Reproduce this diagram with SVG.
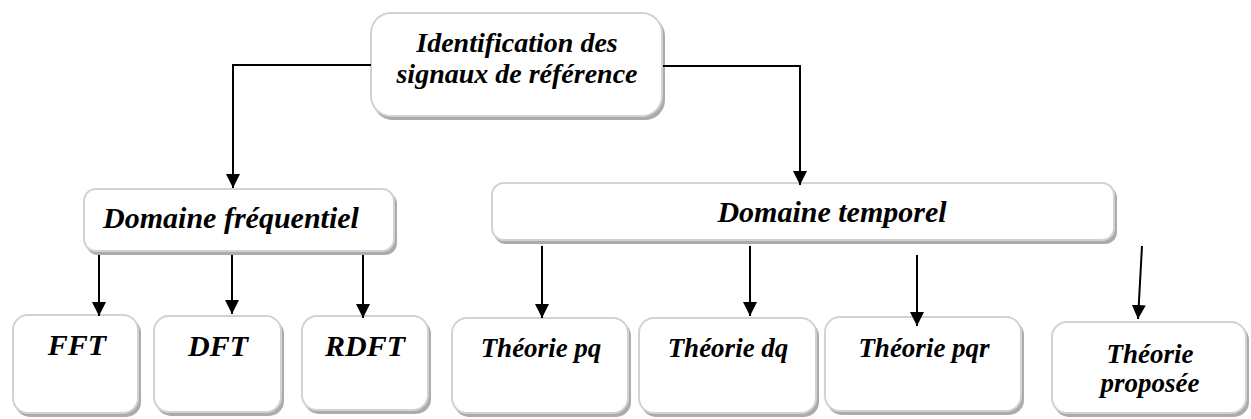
<svg xmlns="http://www.w3.org/2000/svg" width="1251" height="419" viewBox="0 0 1251 419">
  <style>
    .shadow { fill: #ababab; }
    .box { fill: #ffffff; stroke: #d2d2d2; stroke-width: 2; }
    .lbl { font-family: "Liberation Serif", serif; font-weight: bold; font-style: italic; fill: #000; text-anchor: middle; }
    .conn { fill: none; stroke: #000; stroke-width: 2; }
  </style>
  <defs>
    <marker id="arr" markerUnits="userSpaceOnUse" markerWidth="14" markerHeight="14" viewBox="0 0 14 14" refX="14" refY="7" orient="auto">
      <path d="M0,0 L14,7 L0,14 Z" fill="#000"/>
    </marker>
  </defs>
  <rect width="1251" height="419" fill="#ffffff"/>

  <g id="node-identification">
    <rect class="shadow" x="373" y="16" width="292" height="104" rx="20"/>
    <rect class="box" x="371" y="13" width="291" height="103" rx="20"/>
    <text class="lbl" x="517" y="52" font-size="28">Identification des</text>
    <text class="lbl" x="517" y="83" font-size="28">signaux de référence</text>
  </g>

  <g id="node-frequentiel">
    <rect class="shadow" x="86" y="192" width="311" height="63" rx="12"/>
    <rect class="box" x="84" y="189" width="310" height="62" rx="12"/>
    <text class="lbl" x="231" y="228" font-size="30">Domaine fréquentiel</text>
  </g>

  <g id="node-temporel">
    <rect class="shadow" x="494" y="186" width="623" height="58" rx="12"/>
    <rect class="box" x="492" y="183" width="622" height="57" rx="12"/>
    <text class="lbl" x="832" y="222" font-size="30">Domaine temporel</text>
  </g>

  <g id="node-fft">
    <rect class="shadow" x="15" y="318" width="126" height="99" rx="15"/>
    <rect class="box" x="13" y="315" width="125" height="98" rx="15"/>
    <text class="lbl" x="77" y="355" font-size="30">FFT</text>
  </g>

  <g id="node-dft">
    <rect class="shadow" x="156" y="319" width="128" height="97" rx="15"/>
    <rect class="box" x="154" y="316" width="127" height="96" rx="15"/>
    <text class="lbl" x="218" y="356" font-size="30">DFT</text>
  </g>

  <g id="node-rdft">
    <rect class="shadow" x="304" y="319" width="127" height="95" rx="15"/>
    <rect class="box" x="302" y="316" width="126" height="94" rx="15"/>
    <text class="lbl" x="365" y="356" font-size="30">RDFT</text>
  </g>

  <g id="node-pq">
    <rect class="shadow" x="454" y="321" width="177" height="96" rx="15"/>
    <rect class="box" x="452" y="318" width="176" height="95" rx="15"/>
    <text class="lbl" x="541" y="357" font-size="27">Théorie pq</text>
  </g>

  <g id="node-dq">
    <rect class="shadow" x="641" y="321" width="178" height="96" rx="15"/>
    <rect class="box" x="639" y="318" width="177" height="95" rx="15"/>
    <text class="lbl" x="728" y="357" font-size="27">Théorie dq</text>
  </g>

  <g id="node-pqr">
    <rect class="shadow" x="827" y="320" width="197" height="95" rx="15"/>
    <rect class="box" x="825" y="317" width="196" height="94" rx="15"/>
    <text class="lbl" x="924" y="357" font-size="27">Théorie pqr</text>
  </g>

  <g id="node-proposee">
    <rect class="shadow" x="1054" y="325" width="195" height="92" rx="15"/>
    <rect class="box" x="1052" y="322" width="194" height="91" rx="15"/>
    <text class="lbl" x="1150" y="363" font-size="27">Théorie</text>
    <text class="lbl" x="1150" y="392" font-size="27">proposée</text>
  </g>

  <g id="connectors">
    <polyline class="conn" points="371,65 233,65 233,188" marker-end="url(#arr)"/>
    <polyline class="conn" points="663,66 800,66 800,185" marker-end="url(#arr)"/>
    <line class="conn" x1="99" y1="255" x2="99" y2="316" marker-end="url(#arr)"/>
    <line class="conn" x1="232" y1="255" x2="232" y2="314" marker-end="url(#arr)"/>
    <line class="conn" x1="363" y1="255" x2="363" y2="318" marker-end="url(#arr)"/>
    <line class="conn" x1="542" y1="246" x2="542" y2="318" marker-end="url(#arr)"/>
    <line class="conn" x1="750" y1="246" x2="750" y2="316" marker-end="url(#arr)"/>
    <line class="conn" x1="917" y1="255" x2="917" y2="326" marker-end="url(#arr)"/>
    <line class="conn" x1="1142" y1="246" x2="1138" y2="319" marker-end="url(#arr)"/>
  </g>
</svg>
